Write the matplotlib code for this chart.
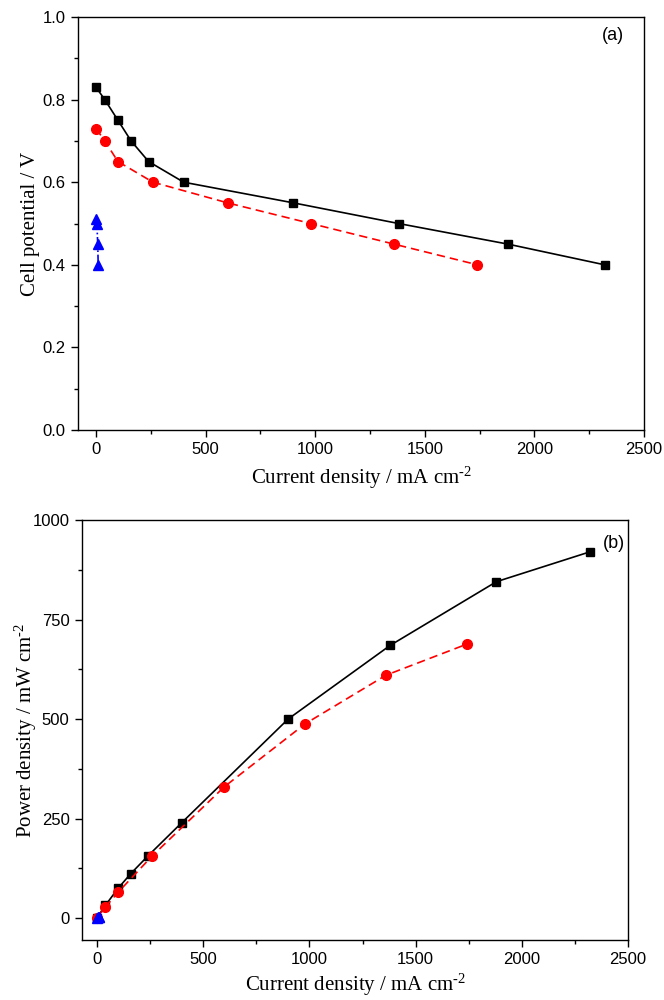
import matplotlib
matplotlib.use("Agg")
import matplotlib.pyplot as plt
from matplotlib.ticker import MultipleLocator, FormatStrFormatter

# Data
i_black = [0, 40, 100, 160, 240, 400, 900, 1380, 1880, 2320]
v_black = [0.83, 0.80, 0.75, 0.70, 0.65, 0.60, 0.55, 0.50, 0.45, 0.40]
p_black = [0, 32, 75, 112, 156, 240, 500, 685, 845, 920]

i_red = [0, 40, 100, 260, 600, 980, 1360, 1740]
v_red = [0.73, 0.70, 0.65, 0.60, 0.55, 0.50, 0.45, 0.40]
p_red = [0, 28, 65, 156, 330, 488, 610, 688]

i_blue = [2, 4, 8, 10]
v_blue = [0.51, 0.50, 0.45, 0.40]
p_blue = [1, 2, 3.6, 4]

sans = "Liberation Sans"
serif = "Liberation Serif"
plt.rcParams["mathtext.fontset"] = "custom"
plt.rcParams["mathtext.rm"] = serif
plt.rcParams["mathtext.it"] = serif + ":italic"
plt.rcParams["mathtext.default"] = "rm"

fig = plt.figure(figsize=(6.64, 10), dpi=100)
ax1 = fig.add_axes([0.1175, 0.570, 0.8525, 0.413])
ax2 = fig.add_axes([0.1235, 0.060, 0.8225, 0.420])

def style(ax):
    for s in ax.spines.values():
        s.set_linewidth(1.0)
    ax.tick_params(which="both", direction="out", top=False, right=False)
    ax.tick_params(which="major", length=5, width=1, labelsize=12, pad=4)
    ax.tick_params(which="minor", length=3, width=1)
    for lab in ax.get_xticklabels() + ax.get_yticklabels():
        lab.set_fontfamily(sans)

xlab = "Current density / mA cm$^{\\text{-2}}$"

# Panel (a)
ax1.plot(i_black, v_black, color="black", lw=1.2, marker="s", ms=6)
ax1.plot(i_red, v_red, color="red", lw=1.2, ls=(0, (5, 3)), marker="o", ms=7)
ax1.plot(i_blue, v_blue, color="blue", lw=1.2, ls="-.", marker="^", ms=7)
ax1.set_xlim(-82, 2500)
ax1.set_ylim(0, 1.0)
ax1.xaxis.set_major_locator(MultipleLocator(500))
ax1.xaxis.set_minor_locator(MultipleLocator(250))
ax1.yaxis.set_major_locator(MultipleLocator(0.2))
ax1.yaxis.set_minor_locator(MultipleLocator(0.1))
ax1.yaxis.set_major_formatter(FormatStrFormatter("%.1f"))
style(ax1)
ax1.set_xlabel(xlab, family=serif, fontsize=15, labelpad=5)
ax1.set_ylabel("Cell potential / V", family=serif, fontsize=15)
ax1.yaxis.set_label_coords(-0.068, 0.5)
ax1.text(0.965, 0.975, "(a)", transform=ax1.transAxes, ha="right", va="top",
         family=sans, fontsize=13)

# Panel (b)
ax2.plot(i_black, p_black, color="black", lw=1.2, marker="s", ms=6)
ax2.plot(i_red, p_red, color="red", lw=1.2, ls=(0, (5, 3)), marker="o", ms=7)
ax2.plot(i_blue, p_blue, color="blue", lw=1.2, ls="-.", marker="^", ms=7)
ax2.set_xlim(-70, 2500)
ax2.set_ylim(-55, 1000)
ax2.xaxis.set_major_locator(MultipleLocator(500))
ax2.xaxis.set_minor_locator(MultipleLocator(250))
ax2.yaxis.set_major_locator(MultipleLocator(250))
ax2.yaxis.set_minor_locator(MultipleLocator(125))
style(ax2)
ax2.set_xlabel(xlab, family=serif, fontsize=15, labelpad=3)
ax2.set_ylabel("Power density / mW cm$^{\\text{-2}}$", family=serif, fontsize=15)
ax2.yaxis.set_label_coords(-0.078, 0.5)
ax2.text(0.995, 0.965, "(b)", transform=ax2.transAxes, ha="right", va="top",
         family=sans, fontsize=13)

fig.savefig("out.png", dpi=100)
